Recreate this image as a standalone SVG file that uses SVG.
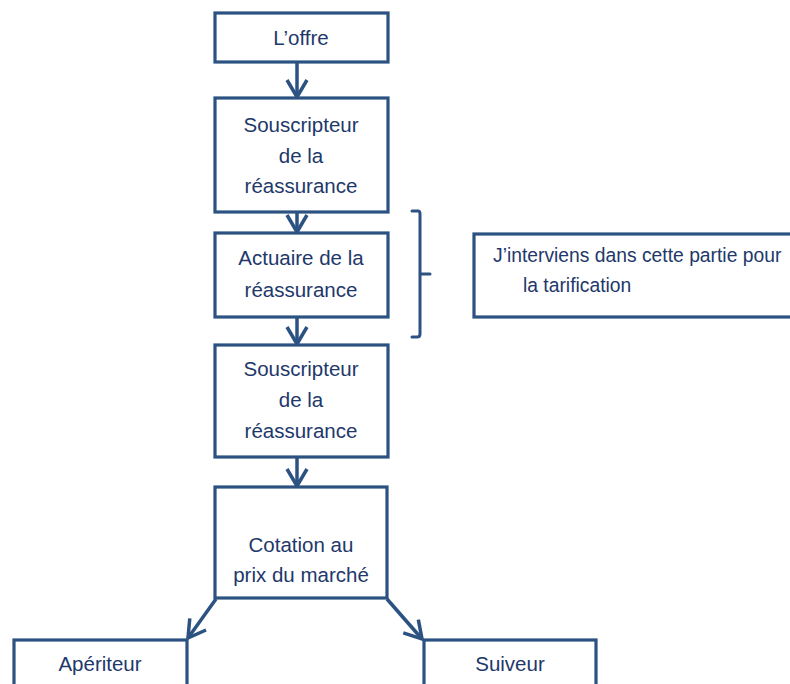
<svg xmlns="http://www.w3.org/2000/svg" width="790" height="684" viewBox="0 0 790 684">
  <style>
    .box { fill: #ffffff; stroke: #2c5282; stroke-width: 3.2; }
    .lbl { font-family: "Liberation Sans", Arial, sans-serif; font-size: 20.5px; fill: #22386a; text-anchor: middle; }
    .note { font-size: 19.3px; text-anchor: start; }
    .edge { fill: none; stroke: #2c5282; stroke-width: 3.5; }
    .brace { fill: none; stroke: #2c5282; stroke-width: 3; stroke-linejoin: round; stroke-linecap: round; }
  </style>
  <defs>
    <marker id="chev" viewBox="0 0 24 24" refX="20" refY="12" markerWidth="24" markerHeight="24" markerUnits="userSpaceOnUse" orient="auto">
      <path d="M3,2 L20,12 L3,22" fill="none" stroke="#2c5282" stroke-width="3.5" stroke-linejoin="miter"/>
    </marker>
  </defs>
  <rect width="790" height="684" fill="#ffffff"/>

  <g id="connectors">
    <line class="edge" x1="297" y1="62" x2="297" y2="97" marker-end="url(#chev)"/>
    <line class="edge" x1="297" y1="212" x2="297" y2="232" marker-end="url(#chev)"/>
    <line class="edge" x1="297" y1="317" x2="297" y2="344" marker-end="url(#chev)"/>
    <line class="edge" x1="297" y1="457" x2="297" y2="486" marker-end="url(#chev)"/>
    <line class="edge" x1="216" y1="599" x2="188" y2="638" marker-end="url(#chev)"/>
    <line class="edge" x1="387" y1="599" x2="422" y2="639" marker-end="url(#chev)"/>
  </g>

  <g id="offre">
    <rect class="box" x="215" y="13" width="173" height="49"/>
    <text class="lbl" x="301" y="45">L’offre</text>
  </g>

  <g id="souscripteur1">
    <rect class="box" x="215" y="98" width="173" height="114"/>
    <text class="lbl" x="301" y="132">Souscripteur</text>
    <text class="lbl" x="301" y="163">de la</text>
    <text class="lbl" x="301" y="193">réassurance</text>
  </g>

  <g id="actuaire">
    <rect class="box" x="215" y="233" width="173" height="84"/>
    <text class="lbl" x="301" y="265">Actuaire de la</text>
    <text class="lbl" x="301" y="297">réassurance</text>
  </g>

  <g id="bracket">
    <path class="brace" d="M412,211 L418,211 Q420,211 420,214 L420,334 Q420,337 417,337 L412,337 M420,274 L430,274"/>
  </g>

  <g id="note">
    <rect class="box" x="474" y="234" width="330" height="83"/>
    <text class="lbl note" x="493" y="262">J’interviens dans cette partie pour</text>
    <text class="lbl note" x="523" y="292">la tarification</text>
  </g>

  <g id="souscripteur2">
    <rect class="box" x="215" y="345" width="173" height="112"/>
    <text class="lbl" x="301" y="376">Souscripteur</text>
    <text class="lbl" x="301" y="407">de la</text>
    <text class="lbl" x="301" y="438">réassurance</text>
  </g>

  <g id="cotation">
    <rect class="box" x="215" y="487" width="172" height="111"/>
    <text class="lbl" x="301" y="552">Cotation au</text>
    <text class="lbl" x="301" y="582">prix du marché</text>
  </g>

  <g id="aperiteur">
    <rect class="box" x="14" y="640" width="173" height="60"/>
    <text class="lbl" x="100" y="671">Apériteur</text>
  </g>

  <g id="suiveur">
    <rect class="box" x="424" y="640" width="172" height="60"/>
    <text class="lbl" x="510" y="671">Suiveur</text>
  </g>
</svg>
